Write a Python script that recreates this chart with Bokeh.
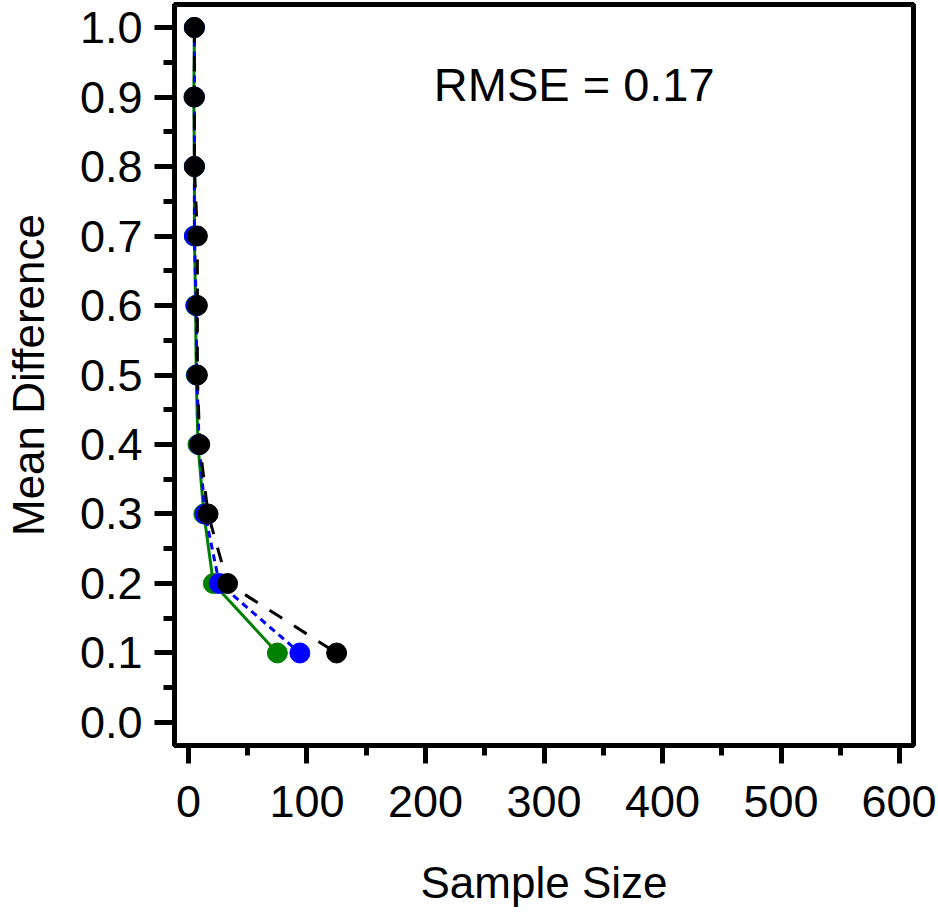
from bokeh.plotting import figure
from bokeh.models import FixedTicker, Range1d, Label, NumeralTickFormatter
from bokeh.embed import file_html
from bokeh.resources import INLINE

# Data
mean_diff = [1.0, 0.9, 0.8, 0.7, 0.6, 0.5, 0.4, 0.3, 0.2, 0.1]
n_green = [5, 4.5, 5, 5, 6, 6.5, 8, 13, 21, 75]
n_blue = [5, 5, 5, 5, 6.5, 7, 9, 14, 26, 94]
n_black = [5, 5, 5, 7.5, 7.5, 7.5, 9.5, 16.5, 33, 125]

x_ticks = [0, 100, 200, 300, 400, 500, 600]
x_minor = [50, 150, 250, 350, 450, 550]
y_ticks = [0.0, 0.1, 0.2, 0.3, 0.4, 0.5, 0.6, 0.7, 0.8, 0.9, 1.0]
y_minor = [0.05, 0.15, 0.25, 0.35, 0.45, 0.55, 0.65, 0.75, 0.85, 0.95]

FONT = "Liberation Sans"

p = figure(width=936, height=922, output_backend="svg", toolbar_location=None,
           x_range=Range1d(-11.81, 611.81), y_range=Range1d(-0.0331, 1.0331),
           min_border_left=174, min_border_right=23, min_border_top=4,
           min_border_bottom=177)

p.background_fill_color = "white"
p.border_fill_color = "white"
p.outline_line_color = "black"
p.outline_line_width = 5
p.xgrid.visible = False
p.ygrid.visible = False

for ax in (p.xaxis[0], p.yaxis[0]):
    ax.axis_line_color = "black"
    ax.axis_line_width = 5
    ax.major_tick_line_width = 5
    ax.minor_tick_line_width = 5
    ax.major_tick_in = 0
    ax.minor_tick_in = 0
    ax.major_label_text_font = FONT
    ax.major_label_text_font_size = "45px"
    ax.major_label_text_color = "black"
    ax.axis_label_text_font = FONT
    ax.axis_label_text_font_size = "44px"
    ax.axis_label_text_font_style = "normal"
    ax.axis_label_text_color = "black"

p.xaxis.ticker = FixedTicker(ticks=x_ticks, minor_ticks=x_minor)
p.yaxis.ticker = FixedTicker(ticks=y_ticks, minor_ticks=y_minor)
p.yaxis.formatter = NumeralTickFormatter(format="0.0")

p.xaxis.major_tick_out = 18
p.xaxis.minor_tick_out = 10
p.yaxis.major_tick_out = 20
p.yaxis.minor_tick_out = 11

p.xaxis.major_label_standoff = 22
p.yaxis.major_label_standoff = 12
p.xaxis.axis_label = "Sample Size"
p.yaxis.axis_label = "Mean Difference"
p.xaxis.axis_label_standoff = 38
p.yaxis.axis_label_standoff = 24

# Series
p.line(n_green, mean_diff, line_color="green", line_width=3)
p.scatter(n_green, mean_diff, size=20, fill_color="green", line_color="green")
p.line(n_blue, mean_diff, line_color="blue", line_width=3, line_dash="7 5")
p.scatter(n_blue, mean_diff, size=20, fill_color="blue", line_color="blue")
p.line(n_black, mean_diff, line_color="black", line_width=3, line_dash="15 14")
p.scatter(n_black, mean_diff, size=20, fill_color="black", line_color="black")

p.add_layout(Label(x=207, y=0.918, text="RMSE = 0.17", text_font=FONT,
                   text_font_size="47px", text_color="black",
                   text_baseline="middle", text_align="left"))

open("out.html", "w").write(file_html(p, INLINE))
